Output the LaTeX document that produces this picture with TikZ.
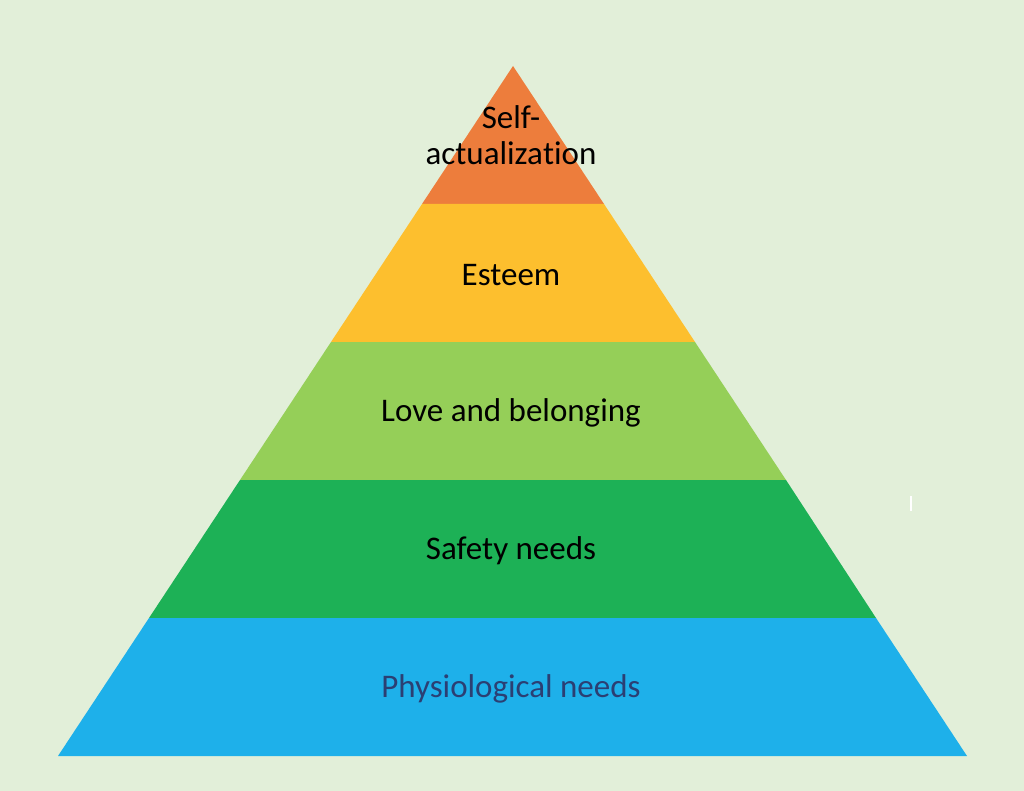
\documentclass[tikz,border=0pt]{standalone}
\usepackage{fontspec}
\setmainfont[Ligatures={NoCommon}]{Carlito}
\definecolor{bgc}{HTML}{E2EFD9}
\definecolor{c1}{HTML}{ED7D3C}
\definecolor{c2}{HTML}{FDBF2E}
\definecolor{c3}{HTML}{95CF58}
\definecolor{c4}{HTML}{1DB156}
\definecolor{c5}{HTML}{1EB0EA}
\definecolor{navy}{HTML}{2B3F73}
\tikzset{lbl/.style={font=\fontsize{33}{36}\selectfont, align=center, text=black, inner sep=0pt}}
\begin{document}
\begin{tikzpicture}[x=1pt,y=-1pt]
\fill[bgc] (0,0) rectangle (1024,791);
\useasboundingbox (0,0) rectangle (1024,791);
\fill[c1] (513,66) -- (604,204) -- (422,204) -- cycle;
\fill[c2] (422,204) -- (604,204) -- (695,342) -- (331,342) -- cycle;
\fill[c3] (331,342) -- (695,342) -- (786,480) -- (240,480) -- cycle;
\fill[c4] (240,480) -- (786,480) -- (876,618) -- (149,618) -- cycle;
\fill[c5] (149,618) -- (876,618) -- (967,756) -- (58,756) -- cycle;
\fill[white] (909.5,496) rectangle (911.5,511);
\node[lbl] (t1) at (511,135) {Self-\\actualiza\kern0pt tion};
\node[lbl] (t2) at (511,275) {Esteem};
\node[lbl] (t3) at (511,413) {Love and belonging};
\node[lbl] (t4) at (511,551) {Safety needs};
\node[lbl, text=navy] (t5) at (511,689) {Physiological needs};
\end{tikzpicture}
\end{document}
